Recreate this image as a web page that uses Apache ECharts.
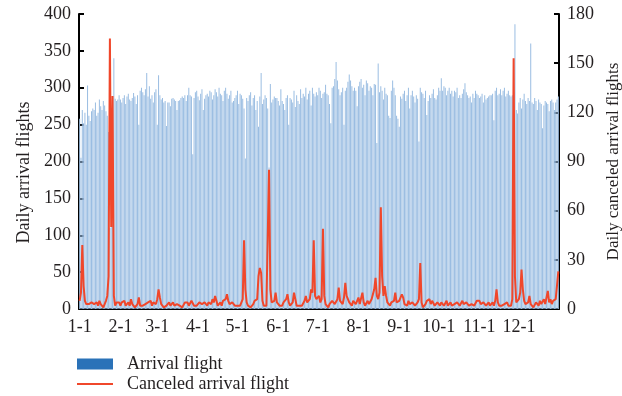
<!DOCTYPE html>
<html>
<head>
<meta charset="utf-8">
<script src="https://cdn.jsdelivr.net/npm/echarts@6/dist/echarts.min.js"></script>
<style>html,body{margin:0;padding:0;background:#fff}#c{width:622px;height:396px}</style>
</head>
<body>
<div id="c"></div>
<script>
const monthDays = [31,28,31,30,31,30,31,31,30,31,30,31];
const leftTicks = [0,50,100,150,200,250,300,350,400];
const rightTicks = [0,30,60,90,120,150,180];

const arrJan = [258,205,270,252,266,250,303,262,255,268,272,270,280,262,266,284,275,270,282,276,268,262,240,110,180,250,340,285,282,284,290];
const arrFeb = [284,280,286,290,278,288,292,284,282,286,293,288,278,290,250,296,300,294,290,298,320,288,302,285,290,280,294,298];
const arrMar = [250,317,290,284,286,280,282,248,280,280,275,285,286,284,282,270,282,283,286,288,286,290,282,290,300,290,288,210,286,294,296];
const arrApr = [288,283,292,298,270,285,290,292,288,296,294,284,290,298,294,288,300,292,290,282,296,300,292,285,290,296,280,282,286,290];
const arrMay = [296,278,292,290,285,272,204,286,282,290,294,276,286,290,270,282,247,288,320,278,284,290,286,272,192,305,280,284,288,286,286];
const arrJun = [282,276,298,282,278,270,286,290,250,286,284,280,296,274,290,282,278,298,286,292,288,300,284,292,296,276,300,292,288,294];
const arrJul = [290,300,296,286,292,294,304,292,290,278,252,300,302,312,335,310,298,290,294,300,250,296,300,308,318,310,302,296,300,296,275];
const arrAug = [302,308,312,300,304,290,310,306,296,302,300,290,305,304,225,333,294,302,296,284,300,292,290,262,259,296,310,300,290,262,258];
const arrSep = [247,288,285,292,296,282,290,300,272,290,296,288,280,290,285,227,300,294,292,286,296,263,282,290,286,292,298,286,284,290];
const arrOct = [300,296,313,296,302,300,290,296,300,292,296,288,296,294,300,286,290,286,292,298,306,294,290,286,288,280,292,286,296,292,290];
const arrNov = [286,288,292,280,290,284,286,288,290,290,292,256,296,300,290,292,298,290,296,300,288,292,296,290,288,290,295,386,270,265];
const arrDec = [280,286,272,284,292,282,278,286,282,360,280,278,286,282,270,284,280,278,245,276,282,280,278,268,282,284,280,270,280,284,288];

const canJan = [5,10,39,14,5,3,4,3,2,4,5,3,2,4,2,5,3,2,1,3,5,8,20,165,50,130,8,2,4,3,4];
const canFeb = [2,4,3,5,2,3,4,2,6,3,2,1,2,3,7,2,1,2,1,3,2,4,3,5,2,4,5,3];
const canMar = [6,12,7,3,2,1,1,2,3,4,2,3,4,2,1,3,2,2,3,1,2,4,3,4,2,3,5,4,2,3,2];
const canApr = [3,4,5,3,2,4,3,2,4,5,3,6,4,8,5,2,3,4,2,5,4,6,9,5,3,2,4,3,2,1];
const canMay = [2,1,2,3,6,42,12,4,2,1,1,2,3,5,4,6,20,25,22,5,2,1,2,3,85,12,4,3,5,10,4];
const canJun = [3,2,1,2,4,5,6,9,4,2,3,4,10,6,2,1,2,3,2,3,5,8,4,3,6,12,10,42,8,6];
const canJul = [5,8,4,6,49,8,3,2,1,3,2,5,4,3,2,6,13,5,4,3,7,16,8,6,4,3,2,5,6,3,2];
const canAug = [7,3,2,10,4,2,3,5,3,4,6,9,12,19,8,6,10,62,20,8,14,8,4,3,2,4,3,5,10,4,5];
const canSep = [5,6,9,7,3,4,2,5,3,2,4,5,2,3,4,6,28,4,1,1,3,5,4,6,3,5,4,2,3,4];
const canOct = [3,2,4,3,2,3,5,2,3,4,2,1,3,2,4,3,2,3,5,3,2,4,3,2,1,3,4,2,3,5,4];
const canNov = [5,3,2,4,3,2,3,4,2,3,4,2,5,12,4,2,3,2,1,3,2,4,2,3,2,6,153,20,4,3];
const canDec = [6,10,24,12,5,3,2,4,8,3,2,1,2,4,3,2,5,3,4,6,3,4,11,4,6,3,5,4,6,5,23];

const arrivals = [].concat(arrJan,arrFeb,arrMar,arrApr,arrMay,arrJun,arrJul,arrAug,arrSep,arrOct,arrNov,arrDec);
const canceled = [].concat(canJan,canFeb,canMar,canApr,canMay,canJun,canJul,canAug,canSep,canOct,canNov,canDec);
const categories = [];
monthDays.forEach((n, m) => { for (let d = 1; d <= n; d++) categories.push((m + 1) + '-' + d); });
const isMonthStart = (i) => /-1$/.test(categories[i]);

const FONT = '"Liberation Serif", "DejaVu Serif", serif';
const FS = 18;
const TXT = '#231f20';
const chart = echarts.init(document.getElementById('c'), null, {renderer: 'canvas'});
chart.setOption({
  animation: false,
  backgroundColor: '#fff',
  textStyle: {fontFamily: FONT},
  grid: {left: 79, right: 63, top: 14, bottom: 87, containLabel: false, outerBoundsMode: 'none'},
  legend: [{
    orient: 'vertical', left: 72, top: 350, itemWidth: 36, itemHeight: 11, padding: 5,
    textStyle: {fontFamily: FONT, fontSize: FS, color: TXT, padding: [0, 0, 0, 9]},
    data: [{name: 'Arrival flight', icon: 'rect', itemStyle: {color: '#2a72b8'}}]
  }, {
    orient: 'vertical', left: 72, top: 370, itemWidth: 36, itemHeight: 2, padding: 5,
    textStyle: {fontFamily: FONT, fontSize: FS, color: TXT, padding: [0, 0, 0, 9]},
    data: [{name: 'Canceled arrival flight', icon: 'rect', itemStyle: {color: '#f0472b'}}]
  }],
  xAxis: {
    type: 'category', data: categories, boundaryGap: true,
    axisLine: {lineStyle: {color: '#000', width: 2}},
    axisTick: {inside: true, length: 4, alignWithLabel: true, interval: (i) => isMonthStart(i), lineStyle: {color: '#000', width: 1.5}},
    axisLabel: {interval: (i) => isMonthStart(i), fontFamily: FONT, fontSize: FS, color: TXT, margin: 9}
  },
  yAxis: [{
    type: 'value', min: 0, max: 400, interval: 50,
    name: 'Daily arrival flights', nameLocation: 'middle', nameGap: 45,
    nameTextStyle: {fontFamily: FONT, fontSize: FS, color: TXT, padding: [0, 22, 0, 0]},
    axisLine: {show: true, lineStyle: {color: '#000', width: 2}},
    axisTick: {show: true, inside: true, length: 5, lineStyle: {color: '#000', width: 2}},
    axisLabel: {fontFamily: FONT, fontSize: FS, color: TXT, margin: 8, formatter: (v) => leftTicks.includes(v) ? String(v) : ''},
    splitLine: {show: false}
  }, {
    type: 'value', min: 0, max: 180, interval: 30,
    name: 'Daily canceled arrival flights', nameLocation: 'middle', nameGap: 44, nameRotate: 90,
    nameTextStyle: {fontFamily: FONT, fontSize: 17, color: TXT},
    axisLine: {show: true, lineStyle: {color: '#000', width: 2}},
    axisTick: {show: true, inside: true, length: 5, lineStyle: {color: '#000', width: 2}},
    axisLabel: {fontFamily: FONT, fontSize: FS, color: TXT, margin: 8, formatter: (v) => rightTicks.includes(v) ? String(v) : ''},
    splitLine: {show: false}
  }],
  series: [{
    name: 'Arrival flight', type: 'bar', data: arrivals, yAxisIndex: 0,
    barCategoryGap: '25%', itemStyle: {color: '#9abde2'}
  }, {
    name: 'Canceled arrival flight', type: 'line', data: canceled, yAxisIndex: 1,
    symbol: 'none', lineStyle: {color: '#f0472b', width: 2}, itemStyle: {color: '#f0472b'}, z: 5
  }]
});
</script>
</body>
</html>
